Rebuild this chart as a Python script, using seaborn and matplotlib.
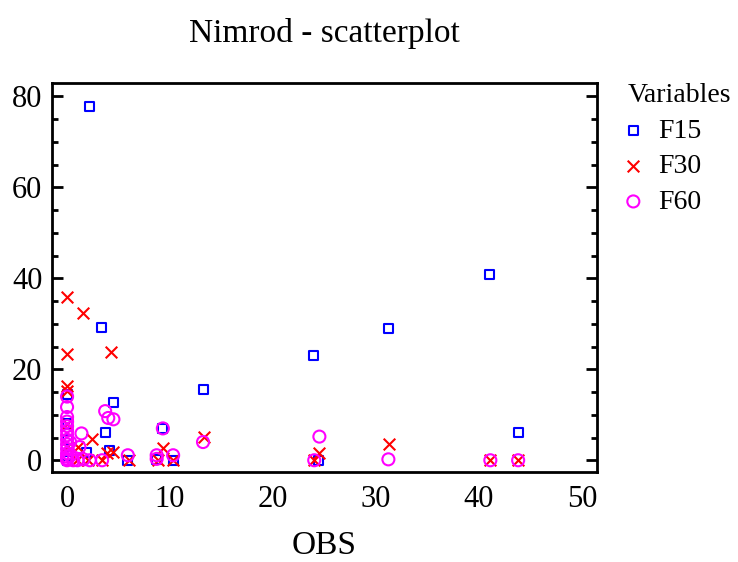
import pandas as pd
import seaborn as sns
import matplotlib.pyplot as plt
from matplotlib.ticker import MultipleLocator

# values
obs_f15 = [0, 0, 0, 0, 0, 1.9, 2.2, 3.3, 3.7, 4.1, 4.5, 5.9, 8.7, 9.3, 10.3,
           13.2, 23.9, 24.4, 31.2, 41.0, 43.8]
f15 = [14.4, 8.0, 4.5, 1.0, 0.0, 1.8, 77.8, 29.2, 6.2, 2.2, 12.8, 0.0, 0.2, 7.0, 0.0,
       15.6, 23.0, 0.0, 29.0, 40.9, 6.2]

obs_f30 = [0, 1.5, 0, 4.3, 0, 0, 0, 0, 1.1, 2.4, 3.9, 4.5, 3.4, 1.0, 2.0, 6.0, 8.8,
           9.3, 10.3, 13.3, 24.0, 24.5, 31.3, 41.1, 43.8]
f30 = [36.0, 32.3, 23.4, 23.7, 16.3, 15.2, 8.0, 3.0, 2.9, 4.7, 1.5, 1.8, 0.0, 0.0, 0.0, 0.0, 0.0,
       2.8, 0.0, 5.2, 0.0, 1.6, 3.6, 0.0, 0.0]

obs_f60 = [0, 0, 0, 0, 0, 0, 0, 0, 0, 0, 0, 0, 0, 0, 0.3, 0.3, 1.4, 1.2, 0.6, 1.0, 1.6,
           2.2, 3.4, 3.7, 4.0, 4.5, 5.9, 8.7, 8.7, 9.3, 10.3, 13.2, 24.0, 24.5, 31.2,
           41.1, 43.8]
f60 = [14.0, 11.7, 9.5, 8.5, 7.5, 6.5, 5.5, 4.5, 3.5, 2.5, 1.5, 0.8, 0.3, 0.0, 1.0, 4.0, 5.9, 2.9,
       0.0, 0.0, 0.2, 0.0, 0.0, 10.8, 9.3, 9.0, 1.1, 1.1, 0.3, 7.0, 1.1, 4.0, 0.0, 5.2, 0.2,
       0.0, 0.0]

series = [("F15", obs_f15, f15, "s", "#0000ff", 42),
          ("F30", obs_f30, f30, "x", "#ff0000", 70),
          ("F60", obs_f60, f60, "o", "#ff00ff", 75)]

sns.set_style("ticks")
plt.rcParams["font.family"] = ["Liberation Serif", "DejaVu Serif"]
plt.rcParams.update({"text.color": "black", "axes.labelcolor": "black",
                     "xtick.color": "black", "ytick.color": "black",
                     "axes.edgecolor": "black"})

fig, ax = plt.subplots(figsize=(7.38, 5.62), dpi=100)
fig.subplots_adjust(left=0.0705, right=0.809, top=0.852, bottom=0.160)

for name, xs, ys, marker, color, size in series:
    df = pd.DataFrame({"OBS": xs, "value": ys})
    if marker == "x":
        sns.scatterplot(data=df, x="OBS", y="value", marker=marker, color=color,
                        s=size, linewidth=1.5, ax=ax, label=name)
    else:
        sns.scatterplot(data=df, x="OBS", y="value", marker=marker, color=color,
                        facecolor="none", edgecolor=color, s=size, linewidth=1.5,
                        ax=ax, label=name)

ax.set_xlim(-1.46, 51.46)
ax.set_ylim(-2.6, 82.9)
ax.set_xticks(range(0, 51, 10))
ax.set_yticks(range(0, 81, 20))
ax.yaxis.set_minor_locator(MultipleLocator(5))

for sp in ax.spines.values():
    sp.set_linewidth(2)
    sp.set_visible(True)

ax.tick_params(axis="x", length=0, labelsize=22, pad=9)
ax.tick_params(axis="y", which="major", direction="in", left=True, right=True,
               length=8, width=2, labelsize=22, pad=7)
ax.tick_params(axis="y", which="minor", direction="in", left=True, right=True,
               length=4.5, width=2)

ax.set_xlabel("OBS", fontsize=24, labelpad=12)
ax.set_ylabel("")
ax.set_title("Nimrod - scatterplot", fontsize=24, pad=30)

ax.legend(title="Variables", loc="upper left", bbox_to_anchor=(1.036, 1.028),
          frameon=False, fontsize=20, title_fontsize=20, alignment="left",
          handlelength=0.4, handletextpad=0.7, labelspacing=0.36, borderaxespad=0)

fig.savefig("out.png", dpi=100)
